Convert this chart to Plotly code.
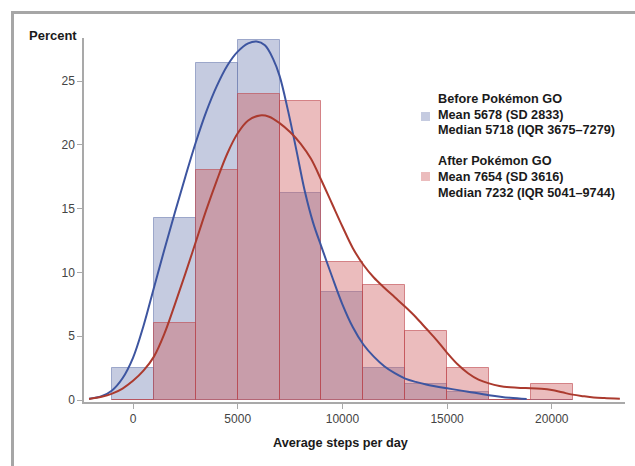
import plotly.graph_objects as go

# ---- data ----
bin_centers = [0, 2000, 4000, 6000, 8000, 10000, 12000, 14000, 16000, 18000, 20000]
before_pct = [2.5, 14.3, 26.4, 28.2, 16.2, 8.45, 2.5, 1.25, 0.6, 0, 0]
after_pct = [0, 6.0, 18.0, 24.0, 23.4, 10.85, 9.0, 5.4, 2.5, 0, 1.25]

before_curve_x = [-2100, -1500, -1000, -500, 0, 500, 1000, 1500, 2000, 2500, 3000, 3500,
                  4000, 4500, 5000, 5500, 5900, 6300, 6700, 7000, 7400, 7800, 8200, 8600,
                  9000, 9500, 10000, 10500, 11000, 11500, 12000, 12500, 13000, 13500,
                  14000, 15000, 16000, 17000, 18000, 18800]
before_curve_y = [0.1, 0.3, 0.75, 1.7, 3.3, 5.8, 8.8, 11.8, 14.7, 17.5, 20.2, 22.6,
                  24.6, 26.2, 27.3, 27.95, 28.1, 27.8, 26.7, 25.4, 22.7, 19.6, 16.4, 13.9,
                  12.0, 9.7, 7.5, 5.7, 4.35, 3.4, 2.65, 2.1, 1.68, 1.42,
                  1.22, 0.92, 0.65, 0.38, 0.17, 0.07]

after_curve_x = [-2100, -1500, -1000, -500, 0, 500, 1000, 1500, 2000, 2500, 3000, 3500,
                 4000, 4500, 5000, 5500, 6065, 6500, 7000, 7500, 8000, 8500, 9000, 9500,
                 10000, 10500, 11000, 11500, 12000, 12500, 13000, 13500, 14000, 14500,
                 15000, 15500, 16000, 16500, 17000, 17500, 18000, 18500, 19000, 19500,
                 20000, 20500, 21000, 21500, 22000, 22500, 23250]
after_curve_y = [0.08, 0.25, 0.5, 0.9, 1.5, 2.3, 3.4, 5.2, 7.5, 9.9, 12.4, 14.9,
                 17.2, 19.3, 20.9, 21.9, 22.3, 22.2, 21.7, 21.0, 20.1, 18.9, 17.2, 15.4,
                 13.6, 11.9, 10.6, 9.6, 8.8, 8.05, 7.3, 6.5, 5.6, 4.7,
                 3.7, 2.8, 2.1, 1.6, 1.3, 1.1, 1.0, 0.95, 0.93, 0.88,
                 0.78, 0.6, 0.42, 0.3, 0.2, 0.15, 0.1]

x_ticks = [0, 5000, 10000, 15000, 20000]
y_ticks = [0, 5, 10, 15, 20, 25]

legend_before = ["Before Pokémon GO", "Mean 5678 (SD 2833)", "Median 5718 (IQR 3675–7279)"]
legend_after = ["After Pokémon GO", "Mean 7654 (SD 3616)", "Median 7232 (IQR 5041–9744)"]

# ---- figure ----
W, H = 635, 466
L, R, T, B = 84, 625, 38, 402
BIN_W = 2000

def xp(px):
    return (px - L) / (R - L)

def yp(py):
    return (B - py) / (B - T)

blue_fill = "rgba(110,125,177,0.4)"
blue_edge = "rgba(110,125,177,0.6)"
red_fill = "rgba(205,88,90,0.4)"
red_edge = "rgba(190,70,75,0.6)"

fig = go.Figure()
fig.add_trace(go.Bar(x=bin_centers, y=before_pct, width=BIN_W,
                     marker=dict(color=blue_fill, line=dict(color=blue_edge, width=1)),
                     showlegend=False, hoverinfo="skip"))
fig.add_trace(go.Bar(x=bin_centers, y=after_pct, width=BIN_W,
                     marker=dict(color=red_fill, line=dict(color=red_edge, width=1)),
                     showlegend=False, hoverinfo="skip"))
fig.add_trace(go.Scatter(x=before_curve_x, y=before_curve_y, mode="lines",
                         line=dict(color="#3d55a0", width=2, shape="spline", smoothing=1.0),
                         showlegend=False, hoverinfo="skip"))
fig.add_trace(go.Scatter(x=after_curve_x, y=after_curve_y, mode="lines",
                         line=dict(color="#ab3a2e", width=2, shape="spline", smoothing=1.0),
                         showlegend=False, hoverinfo="skip"))

y0 = -2 / 12.76
y1 = (400 - T) / 12.76
x0 = (L - 133) / 0.02094
x1 = (R - 133) / 0.02094

axis_common = dict(showline=True, linecolor="#a9a9a9", linewidth=1.5, ticks="outside",
                   tickcolor="#a9a9a9", ticklen=5, tickwidth=1, showgrid=False, zeroline=False,
                   tickfont=dict(family="Liberation Sans, Arial", size=12, color="#444"))

fig.update_layout(
    width=W, height=H,
    margin=dict(l=L, r=W - R, t=T, b=H - B),
    paper_bgcolor="white", plot_bgcolor="white",
    barmode="overlay", bargap=0,
    xaxis=dict(range=[x0, x1], tickvals=x_ticks, ticktext=[str(v) for v in x_ticks], **axis_common),
    yaxis=dict(range=[y0, y1], tickvals=y_ticks, ticktext=[str(v) for v in y_ticks], **axis_common),
    font=dict(family="Liberation Sans, Arial", color="#222"),
)

shapes = [
    dict(type="line", xref="paper", yref="paper", x0=xp(11), x1=xp(636), y0=yp(12.5), y1=yp(12.5),
         line=dict(color="#a6a6a6", width=3)),
    dict(type="line", xref="paper", yref="paper", x0=xp(12.5), x1=xp(12.5), y0=yp(11), y1=yp(467),
         line=dict(color="#a6a6a6", width=3)),
    dict(type="rect", xref="paper", yref="paper", x0=xp(421), x1=xp(430), y0=yp(121), y1=yp(112),
         fillcolor=blue_fill, line=dict(width=0)),
    dict(type="rect", xref="paper", yref="paper", x0=xp(421), x1=xp(430), y0=yp(181), y1=yp(172),
         fillcolor=red_fill, line=dict(width=0)),
]

annotations = [
    dict(text="<b>Percent</b>", xref="paper", yref="paper", x=xp(52.5), y=yp(35),
         xanchor="center", yanchor="middle", showarrow=False,
         font=dict(size=13, color="#1a1a1a")),
    dict(text="<b>Average steps per day</b>", xref="paper", yref="paper", x=xp(340), y=yp(443),
         xanchor="center", yanchor="middle", showarrow=False,
         font=dict(size=12.7, color="#1a1a1a")),
]
for lines, ys in ((legend_before, [99, 115, 130]), (legend_after, [161, 177, 193])):
    for txt, yy in zip(lines, ys):
        annotations.append(dict(text="<b>" + txt + "</b>", xref="paper", yref="paper",
                                x=xp(435.5), y=yp(yy), xanchor="left", yanchor="middle",
                                showarrow=False, font=dict(size=12.7, color="#1a1a1a")))

fig.update_layout(shapes=shapes, annotations=annotations)
fig.write_html("out.html")
